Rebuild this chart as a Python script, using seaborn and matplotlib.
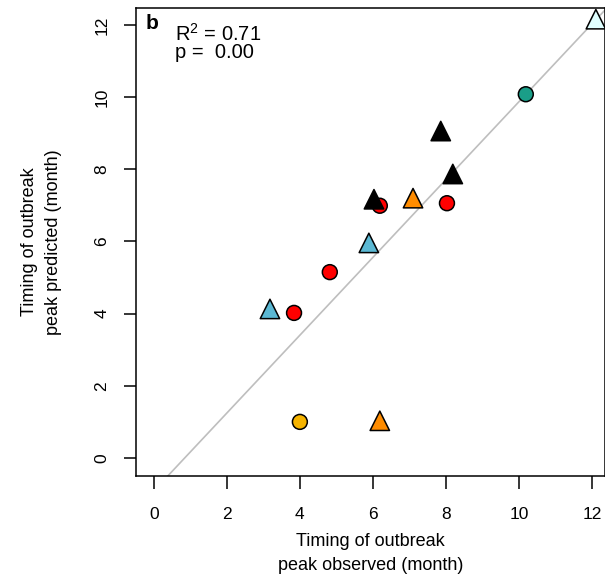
import numpy as np
import pandas as pd
import matplotlib
matplotlib.use("Agg")
import matplotlib.pyplot as plt
import seaborn as sns

# observed vs predicted timing of outbreak peak (months)
circ_obs = [3.84, 4.82, 6.19, 8.03, 10.19, 4.00]
circ_pred = [4.02, 5.15, 6.99, 7.06, 10.08, 1.00]
circ_group = ["red", "red", "red", "red", "teal", "yellow"]

tri_obs = [3.18, 5.89, 6.03, 7.10, 7.86, 8.19, 6.19, 12.11]
tri_pred = [4.13, 5.96, 7.17, 7.20, 9.06, 7.87, 1.03, 12.16]
tri_group = ["blue", "blue", "black", "orange", "black", "black", "orange", "light"]

palette = {"red": "#FF0000", "teal": "#1A9E88", "yellow": "#F5B300",
           "blue": "#5BB8D3", "black": "#000000", "orange": "#FF8C00",
           "light": "#E0FFFF"}

fit_intercept = -0.91
fit_slope = 1.078
r2_text = "0.71"
p_text = "0.00"

sns.set_style("ticks")
plt.rcParams['font.family'] = ['Liberation Sans', 'DejaVu Sans']
plt.rcParams['mathtext.fontset'] = 'custom'
plt.rcParams['mathtext.rm'] = 'Liberation Sans'
for k in ['text.color', 'axes.labelcolor', 'xtick.color', 'ytick.color']:
    plt.rcParams[k] = 'black'

fig = plt.figure(figsize=(6.05, 5.78), dpi=100)
ax = fig.add_axes([136/605, 102/578, 469/605, 468/578])

# fitted line
xl = np.array([-1, 13])
ax.plot(xl, fit_intercept + fit_slope*xl, color="#BEBEBE", lw=1.2, zorder=1)

circles = pd.DataFrame({"obs": circ_obs, "pred": circ_pred, "grp": circ_group})
tris = pd.DataFrame({"obs": tri_obs, "pred": tri_pred, "grp": tri_group})

sns.scatterplot(data=circles, x="obs", y="pred", hue="grp", palette=palette,
                marker="o", s=115, edgecolor="black", linewidth=1.1,
                legend=False, ax=ax, zorder=3, clip_on=False)
sns.scatterplot(data=tris, x="obs", y="pred", hue="grp", palette=palette,
                marker="^", s=195, edgecolor="black", linewidth=1.1,
                legend=False, ax=ax, zorder=4, clip_on=False)

ax.set_xlim(-0.49, 12.36)
ax.set_ylim(-0.5, 12.47)
ticks = [0, 2, 4, 6, 8, 10, 12]
ax.set_xticks(ticks)
ax.set_yticks(ticks)
ax.set_yticklabels([str(t) for t in ticks], rotation=90, va="center")
ax.tick_params(axis="both", length=9, width=1.1, labelsize=12.5, color="black")
ax.tick_params(axis="x", pad=13)
ax.tick_params(axis="y", pad=10)
for sp in ax.spines.values():
    sp.set_visible(True)
    sp.set_linewidth(1.1)
    sp.set_color("black")

ax.set_xlabel("Timing of outbreak\npeak observed (month)", fontsize=13, linespacing=1.5)
ax.set_ylabel("Timing of outbreak\npeak predicted (month)", fontsize=13, linespacing=1.5)
ax.xaxis.set_label_coords(0.5, -0.122)
ax.yaxis.set_label_coords(-0.158, 0.5)

ax.text(0.021, 0.955, "b", transform=ax.transAxes, fontsize=15, fontweight="bold")
ax.text(0.083, 0.929, r"$\mathregular{R^2}$" + " = " + r2_text, transform=ax.transAxes, fontsize=14.5)
ax.text(0.083, 0.893, "p =  " + p_text, transform=ax.transAxes, fontsize=14.5)

fig.savefig("out.png", dpi=100)
